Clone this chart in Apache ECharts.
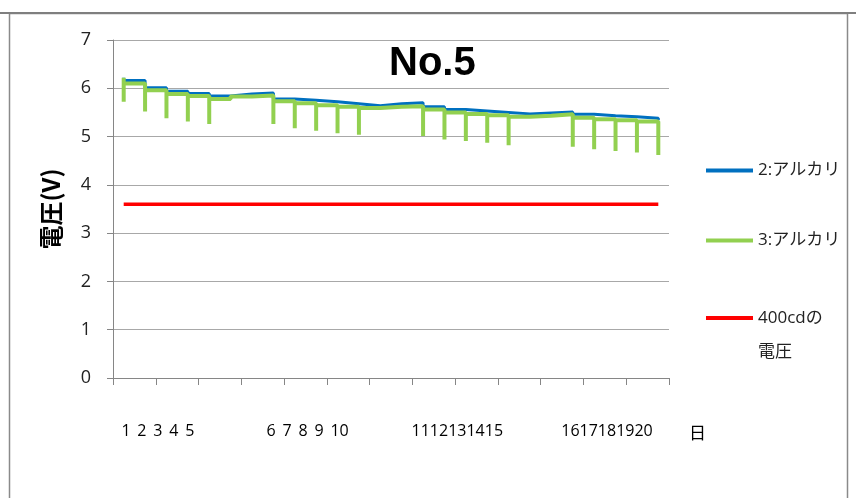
<!DOCTYPE html>
<html>
<head>
<meta charset="utf-8">
<script src="https://cdn.jsdelivr.net/npm/echarts@6/dist/echarts.min.js"></script>
<style>
html,body{margin:0;padding:0;background:#fff;}
#chart{width:856px;height:498px;}
</style>
</head>
<body>
<div id="chart"></div>
<script>
// Days as calendar categories (weekdays with load test + weekend days)
const dayCategories = ['1','2','3','4','5','土','日','6','7','8','9','10','土','日','11','12','13','14','15','土','日','16','17','18','19','20'];
// Tick-label groups as shown on the axis
const weekLabels = ['1 2 3 4 5', '6 7 8 9 10', '1112131415', '1617181920'];
const seriesNames = ['2:アルカリ', '3:アルカリ', '400cdの電圧'];
// first reading before the first load test
const startBlue = 6.22;
const startGreen = 6.22;
// open-circuit level after each day's reading (V)
const blueLevel = [6.16,6.01,5.94,5.89,5.84,5.88,5.90,5.78,5.75,5.72,5.68,5.64,5.68,5.70,5.62,5.56,5.53,5.50,5.47,5.49,5.51,5.46,5.43,5.41,5.38,5.34];
const greenLevel = [6.10,5.96,5.88,5.84,5.78,5.83,5.85,5.73,5.69,5.65,5.62,5.59,5.62,5.63,5.56,5.50,5.47,5.44,5.41,5.43,5.46,5.39,5.36,5.34,5.31,5.29];
// voltage under load at each weekday's test (null on weekend days)
const greenLow = [5.72,5.52,5.38,5.31,5.26,null,null,5.26,5.17,5.12,5.07,5.04,null,null,5.01,4.94,4.91,4.87,4.82,null,null,4.79,4.74,4.70,4.67,4.62];
const threshold400cd = 3.6;

const xOf = i => i + 0.5;
const blueData = [[xOf(0), startBlue]];
blueLevel.forEach((v, i) => blueData.push([xOf(i), v]));
const greenData = [[xOf(0), startGreen]];
greenLevel.forEach((v, i) => {
  if (greenLow[i] != null) greenData.push([xOf(i), greenLow[i]]);
  greenData.push([xOf(i), v]);
});
const redData = dayCategories.map((_, i) => [xOf(i), threshold400cd]);

const labelOffset = 2.1;
const chart = echarts.init(document.getElementById('chart'), null, {renderer: 'canvas'});
const latin = "'Open Sans', 'Noto Sans CJK JP', sans-serif";
const legendText = {fontSize: 17, fontFamily: latin, color: '#222'};
chart.setOption({
  animation: false,
  backgroundColor: '#fff',
  title: {
    text: 'No.5', left: 389, top: 44, padding: 0,
    textStyle: {fontSize: 40, fontWeight: 'bold', fontFamily: "'Liberation Sans', sans-serif", color: '#000'}
  },
  graphic: [{
    type: 'rect', silent: true, z: -1,
    shape: {x: 9.5, y: 13.5, width: 838, height: 500},
    style: {fill: 'none', stroke: '#8a8a8a', lineWidth: 1.5}
  }, {
    type: 'line', silent: true, z: -1,
    shape: {x1: 0, y1: 13, x2: 856, y2: 13},
    style: {stroke: '#7f7f7f', lineWidth: 2}
  }],
  legend: [
    {data: [seriesNames[0]], orient: 'vertical', left: 706, top: 162, padding: 0, itemWidth: 47, itemHeight: 4, icon: 'rect', textStyle: legendText},
    {data: [seriesNames[1]], orient: 'vertical', left: 706, top: 232, padding: 0, itemWidth: 47, itemHeight: 4, icon: 'rect', textStyle: legendText},
    {data: [seriesNames[2]], orient: 'vertical', left: 706, top: 267, padding: 0, itemWidth: 47, itemHeight: 4, icon: 'rect',
     formatter: n => '\n' + n.replace('の', 'の\n'),
     textStyle: Object.assign({}, legendText, {lineHeight: 34})}
  ],
  grid: {left: 113, right: 187, top: 40, bottom: 120, containLabel: false},
  xAxis: {
    type: 'value', min: 0, max: 26, interval: 2,
    axisLine: {show: true, lineStyle: {color: '#868686', width: 1}},
    axisTick: {show: true, length: 7, lineStyle: {color: '#868686'}},
    splitLine: {show: false},
    axisLabel: {
      customValues: weekLabels.map((_, i) => i * 7 + labelOffset),
      formatter: v => weekLabels[Math.round((v - labelOffset) / 7)].replace(/ /g, ' \u2006'),
      margin: 45, fontSize: 16, fontFamily: latin, color: '#000'
    },
    name: '日', nameLocation: 'end', nameGap: 20,
    nameTextStyle: {fontSize: 17, fontFamily: "'Noto Sans CJK JP', sans-serif", color: '#000', verticalAlign: 'top', padding: [46, 0, 0, 0]}
  },
  yAxis: {
    type: 'value', min: 0, max: 7, interval: 1,
    axisLine: {show: true, lineStyle: {color: '#868686', width: 1}},
    axisTick: {show: true, length: 6, lineStyle: {color: '#868686'}},
    splitLine: {show: true, lineStyle: {color: '#a8a8a8', width: 1}},
    axisLabel: {fontSize: 18, fontFamily: latin, color: '#222', margin: 22},
    name: '電圧(V)', nameLocation: 'middle', nameGap: 50,
    nameTextStyle: {fontSize: 24, fontWeight: 'bold', fontFamily: "'Noto Sans CJK JP', sans-serif", color: '#000'}
  },
  series: [
    {name: seriesNames[0], type: 'line', step: 'end', data: blueData, symbol: 'none', color: '#0070C0', lineStyle: {width: 3, color: '#0070C0'}, z: 2},
    {name: seriesNames[1], type: 'line', step: 'end', data: greenData, symbol: 'none', color: '#92D050', lineStyle: {width: 4, color: '#92D050'}, z: 3},
    {name: seriesNames[2], type: 'line', data: redData, symbol: 'none', color: '#FF0000', lineStyle: {width: 3.5, color: '#FF0000'}, z: 4}
  ]
});
</script>
</body>
</html>
